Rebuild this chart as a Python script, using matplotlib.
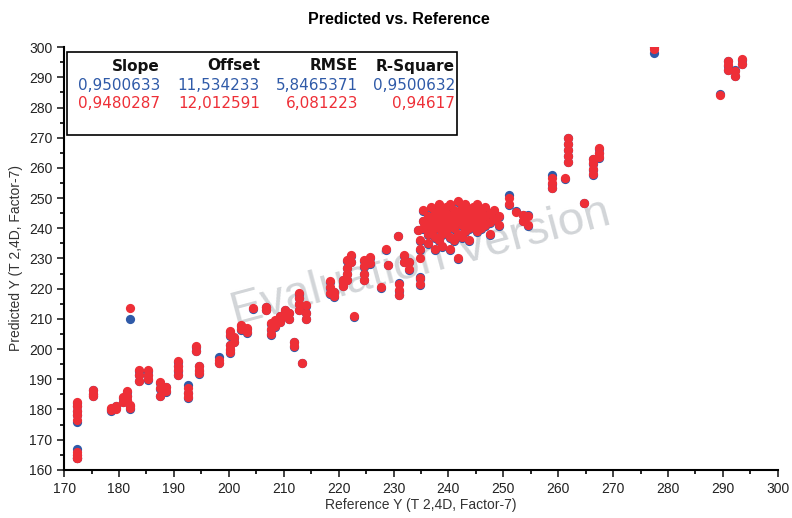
import matplotlib
matplotlib.use("Agg")
import matplotlib.pyplot as plt
from matplotlib.ticker import MultipleLocator

# reference values, one entry per sample
ref_y = [
    172.3, 172.3, 172.3, 172.3, 172.3, 172.3, 172.3, 172.3, 172.3,
    175.3, 175.3, 175.3,
    178.5, 178.5, 179.5, 179.5,
    180.8, 180.8, 181.5, 181.5, 181.5, 182.0, 182.0, 182.0,
    183.6, 183.6, 183.6, 185.2, 185.2, 185.2,
    187.4, 187.4, 187.4, 188.6, 188.6,
    190.7, 190.7, 190.7, 190.7, 192.6, 192.6, 192.6,
    194.0, 194.0, 194.5, 194.5, 194.5, 198.2, 198.2,
    200.2, 200.2, 200.2, 200.2, 200.2, 201.0, 201.0,
    202.2, 202.2, 203.3, 203.3, 204.4, 206.8, 206.8,
    207.6, 207.6, 207.6, 208.5, 208.5, 209.4, 209.4,
    210.3, 210.3, 211.0, 211.0, 211.9, 211.9,
    212.7, 212.7, 212.7, 212.7, 213.3, 214.0, 214.0, 214.0,
    218.4, 218.4, 218.4, 219.2, 219.2, 220.8, 220.8, 220.8,
    221.5, 221.5, 221.5, 221.5, 222.2, 222.2, 222.8,
    224.7, 224.7, 224.7, 224.7, 225.8, 225.8,
    227.8, 228.7, 229.0, 230.9, 231.0, 231.0, 231.0,
    232.0, 232.0, 232.9, 232.9, 234.5,
    234.9, 234.9, 234.9, 234.9, 234.9, 235.4, 235.4, 235.4,
    236.2, 236.2, 236.2, 236.2, 236.8, 236.8, 236.8,
    237.5, 237.5, 237.5, 237.5, 237.5, 238.2, 238.2, 238.2, 238.2, 238.2,
    238.9, 238.9, 238.9, 238.9, 239.6, 239.6, 239.6, 239.6,
    240.3, 240.3, 240.3, 240.3, 240.3, 241.0, 241.0, 241.0, 241.0,
    241.7, 241.7, 241.7, 241.7, 241.7, 242.4, 242.4, 242.4, 242.4,
    243.1, 243.1, 243.1, 243.1, 243.8, 243.8, 243.8, 243.8,
    244.5, 244.5, 244.5, 245.2, 245.2, 245.2, 245.2,
    246.0, 246.0, 246.0, 246.7, 246.7, 246.7, 247.5, 247.5, 247.5,
    248.3, 248.3, 249.2, 249.2,
    251.0, 251.0, 252.3, 253.6, 253.6, 254.5, 254.5,
    258.8, 258.8, 258.8, 261.2,
    261.8, 261.8, 261.8, 261.8, 261.8, 264.7,
    266.3, 266.3, 266.3, 266.3, 267.5, 267.5, 267.5,
    277.4, 277.4, 289.5, 290.9, 290.9, 290.9, 292.2, 292.2, 293.5, 293.5,
]

# predicted values, second model (red, drawn on top)
pred_red = [
    182.5, 181.0, 179.5, 178.0, 176.5, 166.0, 165.0, 164.0, 163.8,
    186.5, 185.0, 184.5,
    180.5, 179.8, 181.0, 180.0,
    184.0, 182.5, 186.0, 184.5, 183.0, 181.5, 180.5, 213.5,
    193.0, 191.5, 189.5, 193.0, 191.5, 190.0,
    189.0, 187.0, 184.5, 187.5, 186.0,
    196.0, 194.5, 193.0, 191.5, 187.0, 185.5, 184.0,
    201.0, 199.5, 194.5, 193.0, 192.0, 196.5, 195.5,
    206.0, 204.5, 201.5, 200.0, 199.0, 204.0, 202.5,
    208.0, 206.5, 207.0, 205.5, 213.5, 214.0, 213.0,
    208.5, 206.5, 205.0, 209.5, 207.5, 211.0, 209.0,
    213.0, 211.0, 212.0, 210.0, 202.5, 201.0,
    218.5, 217.0, 215.0, 213.0, 195.5, 214.5, 212.0, 210.0,
    222.5, 220.5, 218.5, 219.0, 217.5, 222.5, 221.0, 223.0,
    229.5, 227.0, 225.0, 223.0, 231.0, 229.0, 210.8,
    229.5, 227.5, 225.0, 223.0, 230.5, 228.5,
    220.5, 233.0, 228.0, 237.5, 221.5, 219.5, 218.0,
    231.0, 229.0, 229.0, 226.5, 239.5,
    236.0, 233.0, 230.0, 223.5, 221.5, 246.0, 242.5, 240.0,
    244.0, 241.0, 238.0, 235.0, 247.0, 243.0, 239.0,
    245.0, 242.0, 240.0, 237.0, 233.0, 248.0, 246.0, 243.0, 240.0, 236.0,
    244.0, 241.0, 238.0, 234.0, 247.0, 245.0, 242.0, 239.0,
    248.0, 244.0, 241.0, 237.0, 233.0, 246.0, 243.0, 240.0, 236.0,
    249.0, 245.0, 242.0, 238.0, 230.0, 247.0, 244.0, 241.0, 237.0,
    248.0, 245.0, 242.0, 239.0, 246.0, 243.0, 240.0, 236.0,
    247.0, 244.0, 241.0, 248.0, 245.0, 242.0, 239.0,
    246.0, 243.0, 240.0, 247.0, 244.0, 241.0, 245.0, 242.0, 238.0,
    246.0, 243.0, 244.0, 241.0,
    250.0, 248.0, 245.5, 244.5, 242.5, 244.0, 241.0,
    256.5, 255.0, 253.5, 256.5,
    270.0, 268.0, 266.0, 264.0, 262.0, 248.5,
    263.0, 261.5, 259.5, 258.0, 266.5, 265.0, 263.5,
    300.5, 299.5, 284.0, 295.5, 294.0, 292.5, 292.0, 290.5, 296.0, 294.5,
]

# predicted values, first model (blue)
pred_blue = [
    182.0, 181.0, 179.5, 178.0, 175.8, 167.0, 165.0, 164.0, 163.8,
    186.3, 185.0, 184.3,
    180.2, 179.6, 181.3, 180.5,
    183.8, 182.3, 185.8, 184.3, 182.8, 181.3, 180.3, 209.8,
    192.8, 191.3, 189.3, 192.8, 191.3, 189.8,
    188.8, 186.8, 184.3, 187.3, 185.8,
    195.8, 194.3, 192.8, 191.3, 188.0, 185.3, 183.8,
    200.8, 199.3, 194.3, 192.8, 191.8, 197.5, 195.3,
    205.8, 204.3, 201.3, 199.8, 198.8, 203.8, 202.3,
    207.8, 206.3, 206.8, 205.3, 213.3, 213.8, 212.8,
    208.3, 206.3, 204.8, 209.3, 207.3, 210.8, 208.8,
    212.8, 210.8, 211.8, 209.8, 202.3, 200.8,
    218.3, 216.8, 214.8, 212.8, 195.3, 214.3, 211.8, 209.8,
    222.3, 220.3, 218.3, 218.8, 217.3, 222.3, 220.8, 222.8,
    229.3, 226.8, 224.8, 222.8, 230.8, 228.8, 210.6,
    229.3, 227.3, 224.8, 222.8, 230.3, 228.3,
    220.3, 232.8, 227.8, 237.3, 222.0, 219.3, 217.8,
    230.8, 228.8, 228.8, 226.3, 239.3,
    235.8, 232.8, 224.0, 223.3, 221.3, 245.8, 242.3, 239.8,
    243.8, 240.8, 237.8, 234.8, 246.8, 242.8, 238.8,
    244.8, 241.8, 239.8, 236.8, 232.8, 247.8, 245.8, 242.8, 239.8, 235.8,
    243.8, 240.8, 237.8, 233.8, 246.8, 244.8, 241.8, 238.8,
    247.8, 243.8, 240.8, 236.8, 232.8, 245.8, 242.8, 239.8, 235.8,
    248.8, 244.8, 241.8, 237.8, 229.8, 246.8, 243.8, 240.8, 236.8,
    247.8, 244.8, 241.8, 238.8, 245.8, 242.8, 239.8, 235.8,
    246.8, 243.8, 240.8, 247.8, 244.8, 241.8, 238.8,
    245.8, 242.8, 239.8, 246.8, 243.8, 240.8, 244.8, 241.8, 237.8,
    245.8, 242.8, 243.8, 240.8,
    251.0, 247.8, 245.8, 244.3, 242.3, 244.5, 240.8,
    257.5, 254.8, 253.3, 256.3,
    269.8, 267.8, 265.8, 263.8, 261.8, 248.3,
    262.8, 261.3, 259.3, 257.8, 266.3, 264.8, 263.3,
    300.0, 298.0, 284.5, 295.3, 293.8, 292.5, 292.5, 290.3, 295.8, 294.3,
]

stat_cols = ["Slope", "Offset", "RMSE", "R-Square"]
stats_blue = ["0,9500633", "11,534233", "5,8465371", "0,9500632"]
stats_red = ["0,9480287", "12,012591", "6,081223", "0,94617"]

blue = "#2f5aa8"
red = "#ee2f37"

plt.rcParams["font.family"] = ["Liberation Sans", "DejaVu Sans"]

fig = plt.figure(figsize=(7.92, 5.18), dpi=100)
ax = fig.add_axes([0.081, 0.093, 0.901, 0.816])

ax.scatter(ref_y, pred_blue, s=44, color=blue, linewidths=0, zorder=2)
ax.scatter(ref_y, pred_red, s=44, color=red, linewidths=0, zorder=3)

ax.set_xlim(170, 300)
ax.set_ylim(160, 300)
ax.xaxis.set_major_locator(MultipleLocator(10))
ax.xaxis.set_minor_locator(MultipleLocator(5))
ax.yaxis.set_major_locator(MultipleLocator(10))
ax.yaxis.set_minor_locator(MultipleLocator(5))
ax.tick_params(which="major", length=5, width=1.2, labelsize=10, colors="#222222")
ax.tick_params(which="minor", length=3, width=1.2)
for side in ["top", "right"]:
    ax.spines[side].set_visible(False)
for side in ["left", "bottom"]:
    ax.spines[side].set_linewidth(1.5)

ax.set_xlabel("Reference Y (T 2,4D, Factor-7)", fontsize=10, color="#333333", labelpad=2)
ax.set_ylabel("Predicted Y (T 2,4D, Factor-7)", fontsize=10, color="#333333", labelpad=4)
fig.text(0.503, 0.962, "Predicted vs. Reference", ha="center", va="center",
         fontsize=11.5, fontweight="bold", family=["Liberation Sans Narrow", "Liberation Sans"])

# watermark
ax.text(0.499, 0.49, "Evaluation Version", transform=ax.transAxes, fontsize=34,
        color="#d2d5d8", rotation=15, ha="center", va="center", zorder=1)

# statistics table
box = plt.Rectangle((67 / 792, 1 - 135 / 518), 390 / 792, 83 / 518, transform=fig.transFigure,
                    facecolor="white", edgecolor="black", linewidth=1.2, zorder=5)
fig.patches.append(box)
col_x = [160, 260, 358, 455]
for i, name in enumerate(stat_cols):
    xf = col_x[i] / 792
    fig.text(xf, 1 - 66 / 518, name, ha="right", va="center", fontsize=11,
             fontweight="bold", color="#111111", family="DejaVu Sans", zorder=6)
    fig.text(xf, 1 - 86 / 518, stats_blue[i], ha="right", va="center", fontsize=11,
             color=blue, family="DejaVu Sans", zorder=6)
    fig.text(xf, 1 - 104 / 518, stats_red[i], ha="right", va="center", fontsize=11,
             color=red, family="DejaVu Sans", zorder=6)

fig.savefig("out.png", dpi=100)
